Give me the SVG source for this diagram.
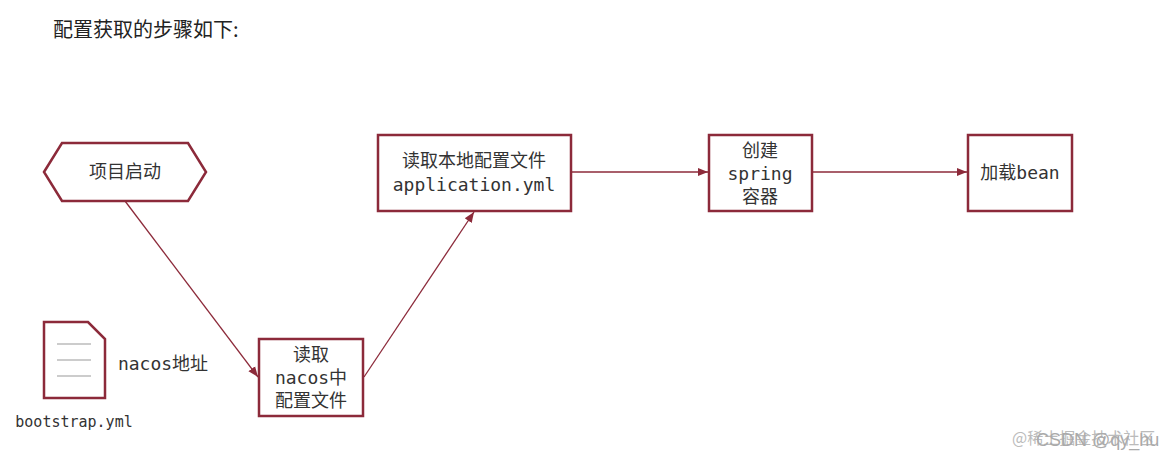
<svg xmlns="http://www.w3.org/2000/svg" width="1174" height="465" viewBox="0 0 1174 465">
<style>
.n{fill:#fff;stroke:#8c2a3a;stroke-width:2.5}
.t{font-family:"DejaVu Sans Mono","Noto Sans CJK SC",monospace;font-size:18px;fill:#333;text-anchor:middle}
.c{stroke:#8c2a3a;stroke-width:1.3;fill:none;marker-end:url(#a)}
</style>
<defs><marker id="a" viewBox="0 0 10 10" refX="10" refY="5" markerWidth="8" markerHeight="8" orient="auto"><path d="M0,1L10,5L0,9z" fill="#8c2a3a"/></marker></defs>
<rect width="1174" height="465" fill="#fff"/>
<text x="53" y="37" style="font-family:'Noto Sans CJK SC',sans-serif;font-size:20px;fill:#222">配置获取的步骤如下:</text>
<g id="connectors">
<path class="c" d="M125,201L258,377"/>
<path class="c" d="M364,377L474,212"/>
<path class="c" d="M572,172L708,172"/>
<path class="c" d="M813,172L967,172"/>
</g>
<g id="start"><polygon class="n" points="44,172 62,143 188,143 206,172 188,201 62,201"/><text class="t" x="125" y="178">项目启动</text></g>
<g id="local"><rect class="n" x="378" y="135" width="193" height="76"/><text class="t" x="474" y="167">读取本地配置文件</text><text class="t" x="474" y="191">application.yml</text></g>
<g id="spring"><rect class="n" x="709" y="135" width="103" height="76"/><text class="t" x="760" y="157">创建</text><text class="t" x="760" y="180">spring</text><text class="t" x="760" y="203">容器</text></g>
<g id="bean"><rect class="n" x="968" y="135" width="104" height="76"/><text class="t" x="1020" y="179">加载bean</text></g>
<g id="nacos"><rect class="n" x="259" y="339" width="104" height="77"/><text class="t" x="311" y="361">读取</text><text class="t" x="311" y="384">nacos中</text><text class="t" x="311" y="407">配置文件</text></g>
<g id="file"><path class="n" d="M44,322H88L105,339V398H44Z"/><path d="M57,344H91M57,360H91M57,376H91" stroke="#999" stroke-width="1"/>
<text class="t" x="163" y="370">nacos地址</text><text class="t" x="74" y="427" style="font-size:15px">bootstrap.yml</text></g>
<text x="1012" y="444" style="font-family:'Noto Sans CJK SC',sans-serif;font-size:16px;fill:#bbb">@稀土掘金技术社区</text>
<text x="1036" y="446" style="font-family:'Liberation Sans',sans-serif;font-size:18px;fill:#aaa">CSDN @qy_hu</text>
</svg>
